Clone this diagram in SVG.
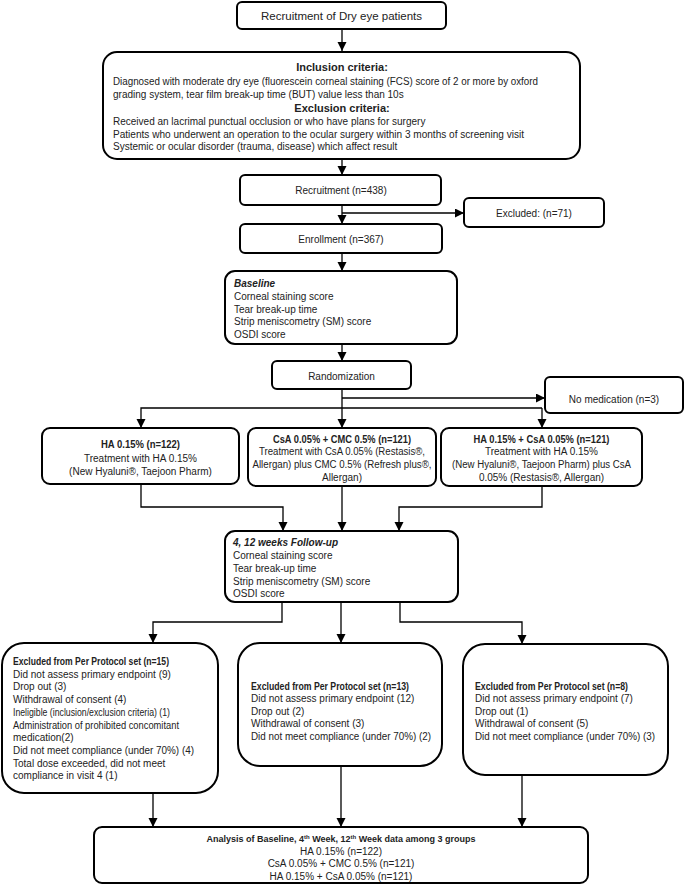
<svg xmlns="http://www.w3.org/2000/svg" width="685" height="886" viewBox="0 0 685 886">
<style>
.box{fill:#fff;stroke:#000;stroke-width:2}
.t{font-family:"Liberation Sans",Arial,sans-serif;font-size:10px;fill:#222}
.c{text-anchor:middle}
.b{font-weight:bold}
.bi{font-weight:bold;font-style:italic}
.con{fill:none;stroke:#000;stroke-width:1.3}
.arr{marker-end:url(#ah)}
</style>
<defs>
<marker id="ah" markerUnits="userSpaceOnUse" markerWidth="10" markerHeight="10" refX="9" refY="4.5" orient="auto">
<path d="M0,0 L9,4.5 L0,9 Z" fill="#000"/>
</marker>
</defs>
<rect width="685" height="886" fill="#fff"/>

<g id="connectors">
<line class="con arr" x1="342" y1="29" x2="342" y2="51"/>
<line class="con arr" x1="342" y1="159" x2="342" y2="175"/>
<line class="con arr" x1="342" y1="205" x2="342" y2="224"/>
<line class="con arr" x1="342" y1="213" x2="464" y2="213"/>
<line class="con arr" x1="342" y1="253" x2="342" y2="271"/>
<line class="con arr" x1="342" y1="344" x2="342" y2="361"/>
<line class="con arr" x1="342" y1="389" x2="342" y2="428"/>
<line class="con arr" x1="342" y1="398" x2="545" y2="398"/>
<polyline class="con arr" points="542,408 141,408 141,428"/>
<line class="con arr" x1="542" y1="408" x2="542" y2="428"/>
<polyline class="con arr" points="141,484 141,507 283,507 283,531"/>
<line class="con arr" x1="342" y1="486" x2="342" y2="531"/>
<polyline class="con arr" points="542,486 542,507 399,507 399,531"/>
<polyline class="con arr" points="282,602 282,622 153,622 153,643"/>
<line class="con arr" x1="341" y1="602" x2="341" y2="643"/>
<polyline class="con arr" points="400,602 400,622 522,622 522,644"/>
<line class="con arr" x1="153" y1="793" x2="153" y2="827"/>
<line class="con arr" x1="341" y1="766" x2="341" y2="827"/>
<line class="con arr" x1="522" y1="775" x2="522" y2="827"/>
</g>

<g id="n-recruit-dry">
<rect class="box" x="237" y="2" width="209" height="27" rx="5"/>
<text class="t c" x="341.5" y="19.5" style="font-size:11.5px">Recruitment of Dry eye patients</text>
</g>

<g id="n-criteria">
<rect class="box" x="103" y="52" width="477" height="107" rx="14"/>
<text class="t c b" x="342" y="71" style="font-size:11px">Inclusion criteria:</text>
<text class="t" x="113" y="85" textLength="425" lengthAdjust="spacingAndGlyphs">Diagnosed with moderate dry eye (fluorescein corneal staining (FCS) score of 2 or more by oxford</text>
<text class="t" x="113" y="98">grading system, tear film break-up time (BUT) value less than 10s</text>
<text class="t c b" x="342" y="112" style="font-size:11px">Exclusion criteria:</text>
<text class="t" x="113" y="125">Received an lacrimal punctual occlusion or who have plans for surgery</text>
<text class="t" x="113" y="137.5" textLength="411" lengthAdjust="spacingAndGlyphs">Patients who underwent an operation to the ocular surgery within 3 months of screening visit</text>
<text class="t" x="113" y="150">Systemic or ocular disorder (trauma, disease) which affect result</text>
</g>

<g id="n-recruitment">
<rect class="box" x="240" y="175" width="201" height="30" rx="5"/>
<text class="t c" x="341" y="194">Recruitment (n=438)</text>
</g>

<g id="n-excluded">
<rect class="box" x="464" y="198" width="140" height="29" rx="5"/>
<text class="t c" x="534" y="216.5">Excluded: (n=71)</text>
</g>

<g id="n-enrollment">
<rect class="box" x="240" y="224" width="202" height="29" rx="5"/>
<text class="t c" x="341" y="242.5">Enrollment (n=367)</text>
</g>

<g id="n-baseline">
<rect class="box" x="225" y="271" width="232" height="73" rx="10"/>
<text class="t bi" x="234" y="286.5">Baseline</text>
<text class="t" x="234" y="299.5">Corneal staining score</text>
<text class="t" x="234" y="312.5">Tear break-up time</text>
<text class="t" x="234" y="325">Strip meniscometry (SM) score</text>
<text class="t" x="234" y="337.5">OSDI score</text>
</g>

<g id="n-random">
<rect class="box" x="272" y="361" width="139" height="28" rx="5"/>
<text class="t c" x="341.5" y="379.5">Randomization</text>
</g>

<g id="n-nomed">
<rect class="box" x="545" y="377" width="138" height="36" rx="5"/>
<text class="t c" x="614" y="402.5">No medication (n=3)</text>
</g>

<g id="n-ha">
<rect class="box" x="42" y="428" width="197" height="56" rx="8"/>
<text class="t c b" x="140.5" y="447.5" textLength="79" lengthAdjust="spacingAndGlyphs">HA 0.15% (n=122)</text>
<text class="t c" x="140.5" y="461.5">Treatment with HA 0.15%</text>
<text class="t c" x="140.5" y="474.5">(New Hyaluni®, Taejoon Pharm)</text>
</g>

<g id="n-csa-cmc">
<rect class="box" x="248" y="428" width="188" height="58" rx="8"/>
<text class="t c b" x="342" y="442.5" textLength="138" lengthAdjust="spacingAndGlyphs">CsA 0.05% + CMC 0.5% (n=121)</text>
<text class="t c" x="342" y="455" textLength="166" lengthAdjust="spacingAndGlyphs">Treatment with CsA 0.05% (Restasis®,</text>
<text class="t c" x="342" y="467.5" textLength="179" lengthAdjust="spacingAndGlyphs">Allergan) plus CMC 0.5% (Refresh plus®,</text>
<text class="t c" x="342" y="480.5">Allergan)</text>
</g>

<g id="n-ha-csa">
<rect class="box" x="441" y="428" width="201" height="58" rx="8"/>
<text class="t c b" x="541.5" y="442.5" textLength="136" lengthAdjust="spacingAndGlyphs">HA 0.15% + CsA 0.05% (n=121)</text>
<text class="t c" x="541.5" y="455">Treatment with HA 0.15%</text>
<text class="t c" x="541.5" y="467.5" textLength="179" lengthAdjust="spacingAndGlyphs">(New Hyaluni®, Taejoon Pharm) plus CsA</text>
<text class="t c" x="541.5" y="480.5">0.05% (Restasis®, Allergan)</text>
</g>

<g id="n-followup">
<rect class="box" x="225" y="531" width="233" height="71" rx="10"/>
<text class="t bi" x="233" y="546">4, 12 weeks Follow-up</text>
<text class="t" x="233" y="559">Corneal staining score</text>
<text class="t" x="233" y="572">Tear break-up time</text>
<text class="t" x="233" y="584.5">Strip meniscometry (SM) score</text>
<text class="t" x="233" y="597">OSDI score</text>
</g>

<g id="n-excl-ha">
<rect class="box" x="2" y="643" width="216" height="150" rx="22"/>
<text class="t b" x="13" y="665" textLength="156" lengthAdjust="spacingAndGlyphs">Excluded from Per Protocol set (n=15)</text>
<text class="t" x="13" y="677.7">Did not assess primary endpoint (9)</text>
<text class="t" x="13" y="690.4">Drop out (3)</text>
<text class="t" x="13" y="703.1">Withdrawal of consent (4)</text>
<text class="t" x="13" y="715.8" textLength="157" lengthAdjust="spacingAndGlyphs">Ineligible (inclusion/exclusion criteria) (1)</text>
<text class="t" x="13" y="728.5" textLength="166" lengthAdjust="spacingAndGlyphs">Administration of prohibited concomitant</text>
<text class="t" x="13" y="741.2">medication(2)</text>
<text class="t" x="13" y="753.9" textLength="181" lengthAdjust="spacingAndGlyphs">Did not meet compliance (under 70%) (4)</text>
<text class="t" x="13" y="766.6">Total dose exceeded, did not meet</text>
<text class="t" x="13" y="779.3">compliance in visit 4 (1)</text>
</g>

<g id="n-excl-csa-cmc">
<rect class="box" x="238" y="643" width="204" height="123" rx="22"/>
<text class="t b" x="251" y="689.5" textLength="158" lengthAdjust="spacingAndGlyphs">Excluded from Per Protocol set (n=13)</text>
<text class="t" x="251" y="702">Did not assess primary endpoint (12)</text>
<text class="t" x="251" y="714.5">Drop out (2)</text>
<text class="t" x="251" y="727">Withdrawal of consent (3)</text>
<text class="t" x="251" y="739.5" textLength="180" lengthAdjust="spacingAndGlyphs">Did not meet compliance (under 70%) (2)</text>
</g>

<g id="n-excl-ha-csa">
<rect class="box" x="463" y="644" width="205" height="131" rx="22"/>
<text class="t b" x="475" y="689.5" textLength="153" lengthAdjust="spacingAndGlyphs">Excluded from Per Protocol set (n=8)</text>
<text class="t" x="475" y="702">Did not assess primary endpoint (7)</text>
<text class="t" x="475" y="714.5">Drop out (1)</text>
<text class="t" x="475" y="727">Withdrawal of consent (5)</text>
<text class="t" x="475" y="739.5" textLength="180" lengthAdjust="spacingAndGlyphs">Did not meet compliance (under 70%) (3)</text>
</g>

<g id="n-analysis">
<rect class="box" x="94" y="827" width="494" height="56" rx="8"/>
<text class="t c b" x="341" y="841.5" style="font-size:9px">Analysis of Baseline, 4<tspan font-size="6" baseline-shift="super">th</tspan> Week, 12<tspan font-size="6" baseline-shift="super">th</tspan> Week data among 3 groups</text>
<text class="t c" x="341" y="854.5">HA 0.15% (n=122)</text>
<text class="t c" x="341" y="867">CsA 0.05% + CMC 0.5% (n=121)</text>
<text class="t c" x="341" y="879.5">HA 0.15% + CsA 0.05% (n=121)</text>
</g>
</svg>
